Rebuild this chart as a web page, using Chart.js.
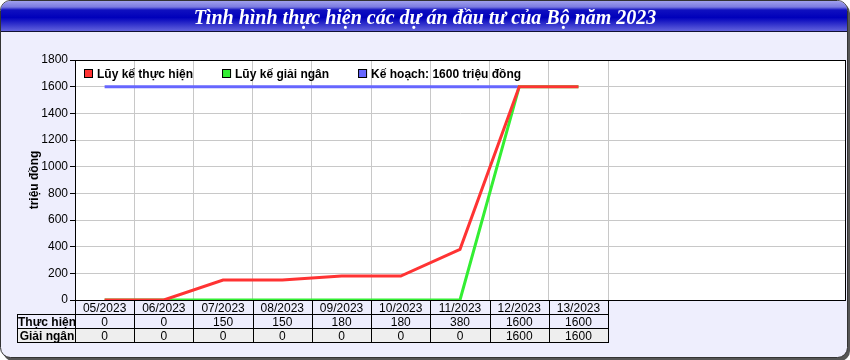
<!DOCTYPE html>
<html>
<head>
<meta charset="utf-8">
<script src="https://cdn.jsdelivr.net/npm/chart.js@4/dist/chart.umd.min.js"></script>
<style>
html,body{margin:0;padding:0;background:#ffffff;}
#wrap{width:850px;height:360px;position:relative;}
</style>
</head>
<body>
<div id="wrap"><canvas id="c" width="850" height="360"></canvas></div>
<script>
const titleText = 'Tình hình thực hiện các dự án đầu tư của Bộ năm 2023';
const months = ['05/2023','06/2023','07/2023','08/2023','09/2023','10/2023','11/2023','12/2023','13/2023'];
const emptySlots = ['', '', '', ''];
const thucHien = [0, 0, 150, 150, 180, 180, 380, 1600, 1600];
const giaiNgan = [0, 0, 0, 0, 0, 0, 0, 1600, 1600];
const keHoach = [1600, 1600, 1600, 1600, 1600, 1600, 1600, 1600];
const seriesNames = ['Lũy kế thực hiện', 'Lũy kế giải ngân', 'Kế hoạch: 1600 triệu đồng'];
const rowNames = ['Thực hiện', 'Giải ngân'];
const yTitle = 'triệu đồng';
const yMin = 0, yMax = 1800, yStep = 200;

const FONT = '"Liberation Sans", Arial, sans-serif';
const BG = '#eeeefd';

const framePlugin = {
  id: 'frame',
  beforeDraw(chart) {
    const ctx = chart.ctx;
    const W = chart.width, H = chart.height;
    ctx.save();
    ctx.fillStyle = '#ffffff';
    ctx.fillRect(0, 0, W, H);
    roundRect(ctx, 3, 3, W - 3, H - 2, 10);
    ctx.fillStyle = '#555555';
    ctx.fill();
    roundRect(ctx, 0.5, 0.5, W - 3, H - 3, 10);
    ctx.fillStyle = BG;
    ctx.fill();
    ctx.strokeStyle = '#333333';
    ctx.lineWidth = 1;
    ctx.stroke();
    ctx.save();
    roundRect(ctx, 1, 1, W - 4, H - 4, 9);
    ctx.clip();
    const g = ctx.createLinearGradient(0, 1, 0, 31);
    g.addColorStop(0, '#a0a0ee');
    g.addColorStop(0.2, '#7a7ae0');
    g.addColorStop(0.3, '#1010c0');
    g.addColorStop(0.55, '#0000bb');
    g.addColorStop(1, '#6262dd');
    ctx.fillStyle = g;
    ctx.fillRect(0, 0, W, 31);
    ctx.restore();
    ctx.fillStyle = '#111133';
    ctx.fillRect(1, 31, W - 4, 1);
    ctx.fillStyle = '#ffffff';
    ctx.font = 'italic bold 20px "Liberation Serif", "Times New Roman", serif';
    ctx.textAlign = 'center';
    ctx.textBaseline = 'alphabetic';
    ctx.fillText(titleText, 425, 24);
    const a = chart.chartArea;
    ctx.fillStyle = '#ffffff';
    ctx.fillRect(a.left, a.top, a.right - a.left, a.bottom - a.top);
    ctx.restore();
  },
  afterDraw(chart) {
    const ctx = chart.ctx;
    const a = chart.chartArea;
    const xs = chart.scales.x;
    ctx.save();
    ctx.strokeStyle = '#000000';
    ctx.lineWidth = 1;
    ctx.strokeRect(Math.round(a.left) + 0.5, Math.round(a.top) + 0.5, Math.round(a.right - a.left), Math.round(a.bottom - a.top));

    // legend
    ctx.font = 'bold 12px ' + FONT;
    ctx.textBaseline = 'middle';
    ctx.textAlign = 'left';
    let lx = 84;
    const ly = 74;
    chart.data.datasets.forEach((ds) => {
      ctx.fillStyle = ds.borderColor;
      ctx.fillRect(lx, ly - 5, 9, 9);
      ctx.strokeStyle = '#000';
      ctx.strokeRect(lx + 0.5, ly - 4.5, 8, 8);
      ctx.fillStyle = '#000';
      ctx.fillText(ds.label, lx + 13, ly + 0.5);
      lx += 13 + ctx.measureText(ds.label).width + 29;
    });

    // data table
    const colW = xs.getPixelForValue(1) - xs.getPixelForValue(0);
    const x0 = Math.round(a.left);
    const xEnd = Math.round(xs.getPixelForValue(months.length - 1) + colW / 2);
    const y0 = Math.round(a.bottom);
    const rowH = 14;
    const hdrL = 17;
    ctx.fillStyle = '#eeeeee';
    ctx.fillRect(hdrL, y0 + rowH * 2, xEnd - hdrL, rowH);
    ctx.strokeStyle = '#000';
    ctx.lineWidth = 1;
    ctx.beginPath();
    ctx.moveTo(hdrL, y0 + rowH + 0.5); ctx.lineTo(xEnd, y0 + rowH + 0.5);
    ctx.moveTo(hdrL, y0 + rowH * 2 + 0.5); ctx.lineTo(xEnd, y0 + rowH * 2 + 0.5);
    ctx.moveTo(hdrL, y0 + rowH * 3 + 0.5); ctx.lineTo(xEnd + 1, y0 + rowH * 3 + 0.5);
    ctx.moveTo(hdrL + 0.5, y0 + rowH); ctx.lineTo(hdrL + 0.5, y0 + rowH * 3 + 1);
    ctx.moveTo(x0 + 0.5, y0); ctx.lineTo(x0 + 0.5, y0 + rowH * 3 + 1);
    for (let i = 0; i < months.length; i++) {
      const xr = Math.round(xs.getPixelForValue(i) + colW / 2) + 0.5;
      ctx.moveTo(xr, y0); ctx.lineTo(xr, y0 + rowH * 3 + 1);
    }
    ctx.stroke();
    ctx.fillStyle = '#000';
    ctx.textAlign = 'center';
    ctx.textBaseline = 'middle';
    ctx.font = '12px ' + FONT;
    const rows = [thucHien, giaiNgan];
    months.forEach((m, i) => {
      const cx = xs.getPixelForValue(i);
      ctx.fillText(m, cx, y0 + rowH / 2 + 2);
      rows.forEach((r, k) => {
        ctx.fillText(String(r[i]), cx, y0 + rowH * (k + 1) + rowH / 2 + 1.5);
      });
    });
    ctx.font = 'bold 12px ' + FONT;
    rowNames.forEach((n, k) => {
      ctx.fillText(n, (hdrL + x0) / 2 + 1, y0 + rowH * (k + 1) + rowH / 2 + 1.5);
    });
    ctx.restore();
  }
};

function roundRect(ctx, x, y, w, h, r) {
  ctx.beginPath();
  ctx.moveTo(x + r, y);
  ctx.lineTo(x + w - r, y);
  ctx.arcTo(x + w, y, x + w, y + r, r);
  ctx.lineTo(x + w, y + h - r);
  ctx.arcTo(x + w, y + h, x + w - r, y + h, r);
  ctx.lineTo(x + r, y + h);
  ctx.arcTo(x, y + h, x, y + h - r, r);
  ctx.lineTo(x, y + r);
  ctx.arcTo(x, y, x + r, y, r);
  ctx.closePath();
}

new Chart(document.getElementById('c'), {
  type: 'line',
  data: {
    labels: months.concat(emptySlots),
    datasets: [
      { label: seriesNames[0], data: thucHien, borderColor: '#ff3333', backgroundColor: '#ff3333', borderWidth: 3, pointRadius: 0, tension: 0 },
      { label: seriesNames[1], data: giaiNgan, borderColor: '#33ee33', backgroundColor: '#33ee33', borderWidth: 3, pointRadius: 0, tension: 0 },
      { label: seriesNames[2], data: keHoach, borderColor: '#6666ff', backgroundColor: '#6666ff', borderWidth: 3, pointRadius: 0, tension: 0 }
    ]
  },
  options: {
    responsive: false,
    animation: false,
    devicePixelRatio: 1,
    layout: { padding: { top: 60, right: 5, left: 0, bottom: 0 } },
    plugins: { legend: { display: false }, title: { display: false }, tooltip: { enabled: false } },
    scales: {
      x: {
        offset: true,
        grid: {
          offset: true,
          drawTicks: false,
          color: (c) => (c.index >= 1 && c.index <= months.length ? '#c8c8c8' : 'rgba(0,0,0,0)'),
          lineWidth: 1
        },
        border: { display: true, color: '#000' },
        ticks: { display: false },
        afterFit: (s) => { s.height = 60; }
      },
      y: {
        min: yMin, max: yMax,
        ticks: { stepSize: yStep, color: '#000', font: { family: FONT, size: 12 }, padding: 2, callback: (v) => String(v) },
        grid: { color: '#c8c8c8', tickColor: '#000', tickLength: 5, lineWidth: 1 },
        border: { display: true, color: '#000' },
        title: { display: true, text: yTitle, color: '#000', font: { family: FONT, size: 12, weight: 'bold' }, padding: { top: 27, bottom: 0 } },
        afterFit: (s) => { s.width = 75; }
      }
    }
  },
  plugins: [framePlugin]
});
</script>
</body>
</html>
